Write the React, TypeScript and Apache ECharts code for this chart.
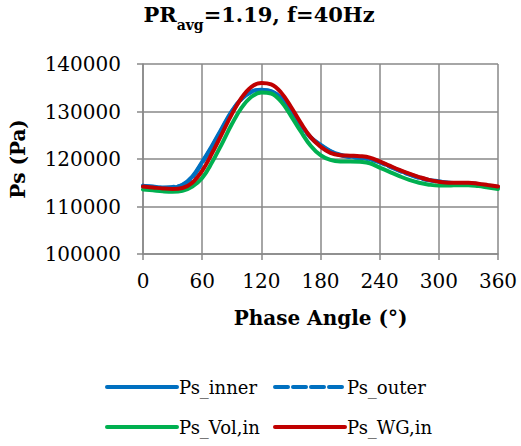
import React, { useEffect, useRef } from "react";
import * as echarts from "echarts";

// Phase angle (degrees)
const angles = [
  0, 10, 20, 30, 40, 50, 60, 70, 80, 90, 100, 110, 120, 130, 140, 150, 160, 170, 180,
  190, 200, 210, 220, 230, 240, 250, 260, 270, 280, 290, 300, 310, 320, 330, 340, 350, 360,
];

// Static pressure (Pa)
const psInner = [
  114400, 114100, 114000, 114000, 114600, 116300, 119400, 122800, 126500, 130100, 132700,
  134200, 134600, 134300, 132900, 130400, 127300, 124600, 123000, 121700, 120900, 120500,
  120300, 120000, 119400, 118500, 117600, 116800, 116100, 115600, 115300, 115000, 114900,
  114900, 114700, 114400, 114100,
];
const psOuter = [
  114300, 114200, 113900, 114100, 114500, 116100, 119200, 122600, 126300, 129900, 132600,
  134100, 134500, 134200, 132800, 130300, 127200, 124500, 122900, 121600, 120800, 120400,
  120200, 119900, 119300, 118400, 117500, 116700, 116000, 115500, 115200, 115000, 114900,
  114800, 114600, 114300, 114000,
];
const psVol = [
  113600, 113400, 113200, 113100, 113300, 114200, 116000, 119300, 123200, 127300, 130800,
  133100, 134000, 133800, 132100, 129100, 125800, 122800, 120800, 119800, 119500, 119500,
  119400, 119100, 118200, 117300, 116400, 115600, 115000, 114600, 114400, 114400, 114500,
  114500, 114300, 114000, 113700,
];
const psWG = [
  114200, 114000, 113800, 113700, 113900, 115000, 117500, 121200, 125300, 129400, 132900,
  135200, 136000, 135700, 134000, 131000, 127600, 124600, 122600, 121300, 120800, 120700,
  120600, 120300, 119500, 118600, 117700, 116900, 116200, 115600, 115200, 115000, 115000,
  115000, 114800, 114500, 114200,
];

const seriesNames = ["Ps_inner", "Ps_outer", "Ps_Vol,in", "Ps_WG,in"];
const seriesValues = [psInner, psOuter, psVol, psWG];
const seriesColors = ["#0070C0", "#0070C0", "#00B050", "#C00000"];
const seriesDash: (string | number[])[] = ["solid", [13, 5], "solid", "solid"];

const FONT = "DejaVu Serif";
const GRID_COLOR = "#898989";

export default function App() {
  const ref = useRef<HTMLDivElement>(null);

  useEffect(() => {
    if (!ref.current) return;
    const chart = echarts.init(ref.current, undefined, { renderer: "svg" });

    const series = seriesNames.map((name, i) => ({
      name,
      type: "line" as const,
      data: angles.map((a, j) => [a, seriesValues[i][j]]),
      smooth: 0.4,
      symbol: "none",
      showSymbol: false,
      lineStyle: {
        color: seriesColors[i],
        width: 4,
        type: seriesDash[i] as any,
        cap: "round" as const,
      },
      itemStyle: { color: seriesColors[i] },
      z: 2 + i,
    }));

    // one legend per entry so the two columns line up
    const legendPos = [
      { left: 100, top: 373 },
      { left: 268, top: 373 },
      { left: 100, top: 413 },
      { left: 268, top: 413 },
    ];
    const legends = seriesNames.map((name, i) => ({
      show: true,
      data: [name],
      left: legendPos[i].left,
      top: legendPos[i].top,
      orient: "horizontal" as const,
      itemWidth: 70,
      itemHeight: 14,
      selectedMode: false,
      itemStyle: { opacity: 0 },
      lineStyle: { width: 4, cap: "round", type: seriesDash[i] as any, opacity: 1 },
      textStyle: { fontFamily: FONT, fontSize: 18, color: "#000", padding: [0, 0, 0, -3] },
    }));

    chart.setOption({
      animation: false,
      backgroundColor: "#fff",
      grid: { left: 142, right: 23, top: 64, bottom: 192, containLabel: false },
      graphic: [
        {
          type: "text",
          x: 259,
          y: 14,
          style: {
            text: "{a|PR}{b|avg}{a|=1.19, f=40Hz}",
            align: "center",
            verticalAlign: "middle",
            rich: {
              a: {
                fontFamily: FONT,
                fontWeight: "bold",
                fontSize: 21,
                lineHeight: 24,
                fill: "#000",
              },
              b: {
                fontFamily: FONT,
                fontWeight: "bold",
                fontSize: 14,
                lineHeight: 14,
                padding: [21, 0, 0, 0],
                fill: "#000",
              },
            },
          },
        },
      ],
      legend: legends,
      xAxis: {
        type: "value",
        min: 0,
        max: 360,
        interval: 60,
        name: "Phase Angle (°)",
        nameLocation: "middle",
        nameGap: 54,
        nameTextStyle: { fontFamily: FONT, fontWeight: "bold", fontSize: 20, color: "#000" },
        axisLine: { show: true, lineStyle: { color: GRID_COLOR, width: 1.5 } },
        axisTick: { show: true, length: 6, lineStyle: { color: GRID_COLOR, width: 1.5 } },
        axisLabel: { fontFamily: FONT, fontSize: 20, color: "#000", margin: 17 },
        splitLine: { show: true, lineStyle: { color: GRID_COLOR, width: 1.5 } },
      },
      yAxis: {
        type: "value",
        min: 100000,
        max: 140000,
        interval: 10000,
        name: "Ps (Pa)",
        nameLocation: "middle",
        nameRotate: 90,
        nameGap: 115,
        nameTextStyle: { fontFamily: FONT, fontWeight: "bold", fontSize: 20, color: "#000" },
        axisLine: { show: true, lineStyle: { color: GRID_COLOR, width: 1.5 } },
        axisTick: { show: true, length: 6, lineStyle: { color: GRID_COLOR, width: 1.5 } },
        axisLabel: {
          fontFamily: FONT,
          fontSize: 20,
          color: "#000",
          margin: 22,
          formatter: (v: number) => String(v),
        },
        splitLine: { show: true, lineStyle: { color: GRID_COLOR, width: 1.5 } },
      },
      series,
    });

    return () => chart.dispose();
  }, []);

  return (
    <div
      ref={ref}
      style={{ position: "fixed", left: 0, top: 0, width: 521, height: 446, background: "#fff" }}
    />
  );
}
